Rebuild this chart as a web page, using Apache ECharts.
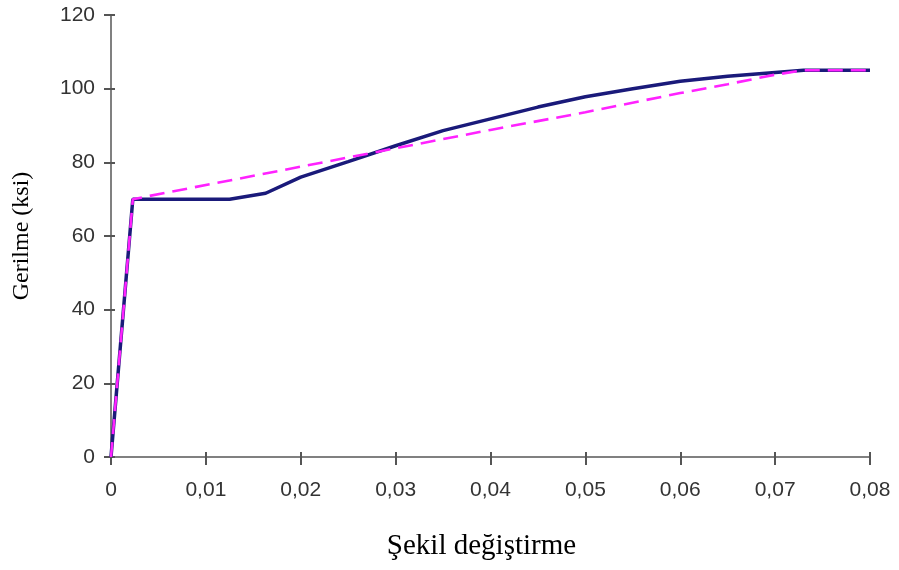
<!DOCTYPE html>
<html><head><meta charset="utf-8">
<script src="https://cdn.jsdelivr.net/npm/echarts@6/dist/echarts.min.js"></script>
<style>html,body{margin:0;padding:0;background:#fff}#c{width:899px;height:570px}</style>
</head><body><div id="c"></div>
<script>
const xTicks = [0, 0.01, 0.02, 0.03, 0.04, 0.05, 0.06, 0.07, 0.08];
const yTicks = [0, 20, 40, 60, 80, 100, 120];
const solidX = [0, 0.0023, 0.0125, 0.0163, 0.02, 0.025, 0.03, 0.035, 0.04, 0.045, 0.05, 0.055, 0.06, 0.065, 0.07, 0.073, 0.08];
const solidY = [0, 70, 70, 71.6, 76, 80.2, 84.5, 88.6, 91.8, 95, 97.8, 100, 102, 103.4, 104.4, 105, 105];
const dashX = [0, 0.0023, 0.04, 0.05, 0.06, 0.065, 0.07, 0.073, 0.08];
const dashY = [0, 70, 88.8, 93.6, 98.8, 101.2, 103.8, 105, 105];
const xName = 'Şekil değiştirme';
const yName = 'Gerilme (ksi)';

const chart = echarts.init(document.getElementById('c'), null, {renderer:'canvas'});
const fmtX = v => v === 0 ? '0' : v.toFixed(2).replace('.', ',');
const axisLine = {show:true, onZero:false, lineStyle:{color:'#808080', width:2}};
const tickStyle = {color:'#555', width:2};
const baseX = {type:'value', min:xTicks[0], max:xTicks[xTicks.length-1], interval:0.01, splitLine:{show:false}, axisLine};
const baseY = {type:'value', min:yTicks[0], max:yTicks[yTicks.length-1], interval:20, splitLine:{show:false}, axisLine};
chart.setOption({
  animation:false,
  grid:{left:111, right:29, top:15, bottom:113},
  xAxis:[
    Object.assign({}, baseX, {
      name:xName, nameLocation:'middle', nameGap:75,
      nameTextStyle:{fontFamily:'Liberation Serif', fontSize:29, color:'#000', padding:[0,18,0,0]},
      axisTick:{show:true, inside:false, length:8, lineStyle:tickStyle},
      axisLabel:{formatter:fmtX, fontFamily:'Liberation Sans', fontSize:21, color:'#333', margin:23}
    }),
    Object.assign({}, baseX, {
      position:'bottom',
      axisTick:{show:true, inside:true, length:5, lineStyle:tickStyle},
      axisLabel:{show:false}
    })
  ],
  yAxis:[
    Object.assign({}, baseY, {
      name:yName, nameLocation:'middle', nameGap:77,
      nameTextStyle:{fontFamily:'Liberation Serif', fontSize:24, color:'#000'},
      axisTick:{show:true, inside:false, length:7, lineStyle:tickStyle},
      axisLabel:{fontFamily:'Liberation Sans', fontSize:21, color:'#333', margin:16}
    }),
    Object.assign({}, baseY, {
      position:'left',
      axisTick:{show:true, inside:true, length:4, lineStyle:tickStyle},
      axisLabel:{show:false}
    })
  ],
  series:[
    {type:'line', data:solidX.map((x,i)=>[x, solidY[i]]), showSymbol:false, smooth:false,
     lineStyle:{color:'#1a1a7a', width:3.5}, z:2},
    {type:'line', data:dashX.map((x,i)=>[x, dashY[i]]), showSymbol:false, smooth:false,
     lineStyle:{color:'#ff22ff', width:2.6, type:[15,8]}, z:3}
  ]
});
</script></body></html>
